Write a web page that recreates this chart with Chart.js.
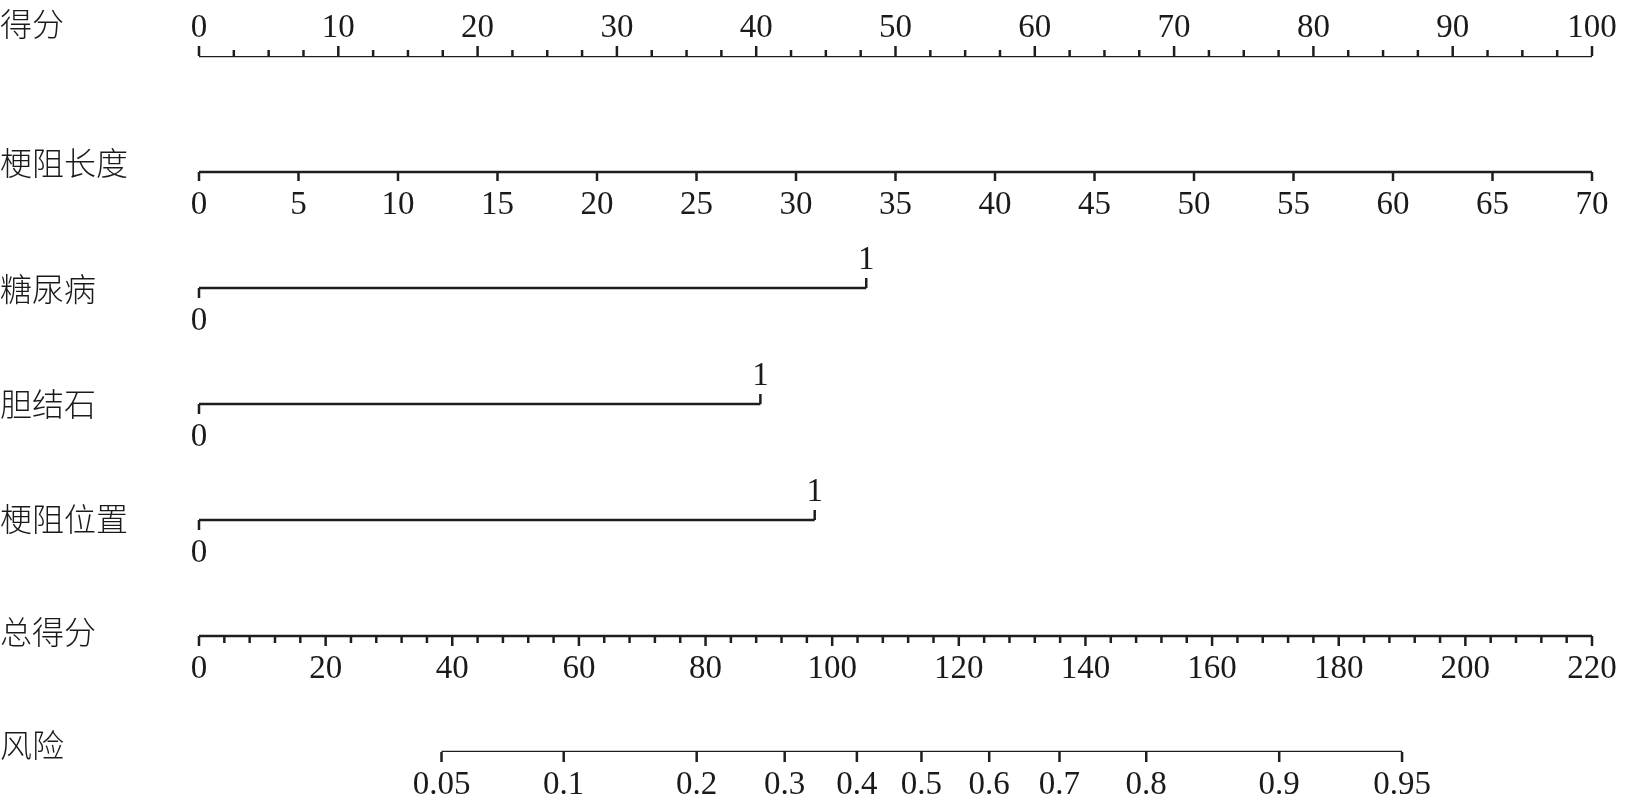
<!DOCTYPE html>
<html>
<head>
<meta charset="utf-8">
<script src="https://cdn.jsdelivr.net/npm/chart.js@4.4.1/dist/chart.umd.min.js"></script>
<style>
    html, body { margin: 0; padding: 0; background: #fff; }
    #wrap { width: 1632px; height: 803px; }
</style>
</head>
<body>
<div id="wrap"><canvas id="nomogram"></canvas></div>
<script>
var rowNames = ['得分', '梗阻长度', '糖尿病', '胆结石', '梗阻位置', '总得分', '风险'];

// 得分 (points) axis
var pointsLabels = [0, 10, 20, 30, 40, 50, 60, 70, 80, 90, 100];
var pointsMinorStep = 2.5;

// 梗阻长度: 0-70 spans 0-100 points
var lengthLabels = [0, 5, 10, 15, 20, 25, 30, 35, 40, 45, 50, 55, 60, 65, 70];
var lengthMaxPoints = 100;

// binary variables: points at level 0 and level 1
var binaryLevels = ['0', '1'];
var diabetesPoints = [0, 47.9];
var gallstonePoints = [0, 40.3];
var locationPoints = [0, 44.2];

// 总得分 axis
var totalLabels = [0, 20, 40, 60, 80, 100, 120, 140, 160, 180, 200, 220];
var totalMinorStep = 4;

// 风险: total points where each risk tick sits
var riskLabels = ['0.05', '0.1', '0.2', '0.3', '0.4', '0.5', '0.6', '0.7', '0.8', '0.9', '0.95'];
var riskTotals = [38.3, 57.6, 78.6, 92.5, 103.9, 114.1, 124.8, 135.9, 149.6, 170.6, 190.0];

var lineColor = '#1e1e1e';
var textColor = '#1a1a1a';
var numFont = '33px "Liberation Serif", "Times New Roman", serif';
var cjkFont = '300 32px "Noto Sans CJK SC", sans-serif';

var lengthMax = lengthLabels[lengthLabels.length - 1];
var totalMax = totalLabels[totalLabels.length - 1];

function lengthToPoints(v) { return v * lengthMaxPoints / lengthMax; }
function totalToPoints(v) { return v * 100 / totalMax; }

function segment(row, x1, x2) {
    return [{ x: x1, y: row }, { x: x2, y: row }];
}

var segments = [
    segment(0, 0, 100),
    segment(1, lengthToPoints(0), lengthToPoints(lengthMax)),
    segment(2, diabetesPoints[0], diabetesPoints[1]),
    segment(3, gallstonePoints[0], gallstonePoints[1]),
    segment(4, locationPoints[0], locationPoints[1]),
    segment(5, totalToPoints(0), totalToPoints(totalMax)),
    segment(6, totalToPoints(riskTotals[0]), totalToPoints(riskTotals[riskTotals.length - 1]))
];

function drawTick(ctx, x, y, len, dir) {
    ctx.beginPath();
    ctx.moveTo(x, y);
    ctx.lineTo(x, y + dir * len);
    ctx.stroke();
}

var nomogramAxes = {
    id: 'nomogramAxes',
    afterDatasetsDraw: function (chart) {
        var ctx = chart.ctx;
        var xs = chart.scales.x;
        var ys = chart.scales.y;
        var labelOffsets = [-32, -9, 1, 0, -1, -4, -7];
        var above = -19, below = 42;

        ctx.save();
        ctx.strokeStyle = lineColor;
        ctx.fillStyle = textColor;
        ctx.lineWidth = 2.5;
        ctx.lineCap = 'butt';
        ctx.textAlign = 'center';
        ctx.textBaseline = 'alphabetic';
        ctx.font = numFont;

        // 得分: ticks up, labels above
        var y = ys.getPixelForValue(0);
        for (var v = 0; v <= 100; v += pointsMinorStep) {
            drawTick(ctx, xs.getPixelForValue(v), y, v % 10 === 0 ? 10 : 6, -1);
        }
        pointsLabels.forEach(function (p) {
            ctx.fillText(String(p), xs.getPixelForValue(p), y + above);
        });

        // 梗阻长度
        y = ys.getPixelForValue(1);
        lengthLabels.forEach(function (l) {
            var px = xs.getPixelForValue(lengthToPoints(l));
            drawTick(ctx, px, y, 9, 1);
            ctx.fillText(String(l), px, y + below);
        });

        // binary rows: 0 below, 1 above
        [diabetesPoints, gallstonePoints, locationPoints].forEach(function (pts, i) {
            var ry = ys.getPixelForValue(2 + i);
            var p0 = xs.getPixelForValue(pts[0]);
            var p1 = xs.getPixelForValue(pts[1]);
            drawTick(ctx, p0, ry, 10, 1);
            ctx.fillText(binaryLevels[0], p0, ry + below);
            drawTick(ctx, p1, ry, 10, -1);
            ctx.fillText(binaryLevels[1], p1, ry + above);
        });

        // 总得分
        y = ys.getPixelForValue(5);
        for (var t = 0; t <= totalMax; t += totalMinorStep) {
            drawTick(ctx, xs.getPixelForValue(totalToPoints(t)), y, t % 20 === 0 ? 10 : 7, 1);
        }
        totalLabels.forEach(function (t) {
            ctx.fillText(String(t), xs.getPixelForValue(totalToPoints(t)), y + below);
        });

        // 风险
        y = ys.getPixelForValue(6);
        riskTotals.forEach(function (t, i) {
            var px = xs.getPixelForValue(totalToPoints(t));
            drawTick(ctx, px, y, 10, 1);
            ctx.fillText(riskLabels[i], px, y + below);
        });

        // row names
        ctx.font = cjkFont;
        ctx.textAlign = 'left';
        ctx.textBaseline = 'middle';
        rowNames.forEach(function (name, i) {
            ctx.fillText(name, 0, ys.getPixelForValue(i) + labelOffsets[i]);
        });
        ctx.restore();
    }
};

var ctx = document.getElementById('nomogram').getContext('2d');
new Chart(ctx, {
    type: 'line',
    data: {
        datasets: segments.map(function (seg) {
            return {
                data: seg,
                borderColor: lineColor,
                borderWidth: 2.5,
                pointRadius: 0,
                fill: false,
                tension: 0
            };
        })
    },
    options: {
        responsive: true,
        maintainAspectRatio: false,
        animation: false,
        layout: {
            padding: { left: 199, right: 40, top: 56, bottom: 51 }
        },
        scales: {
            x: { type: 'linear', min: 0, max: 100, display: false },
            y: { type: 'linear', min: 0, max: 6, reverse: true, display: false }
        },
        plugins: {
            legend: { display: false },
            tooltip: { enabled: false }
        }
    },
    plugins: [nomogramAxes]
});
</script>
</body>
</html>
